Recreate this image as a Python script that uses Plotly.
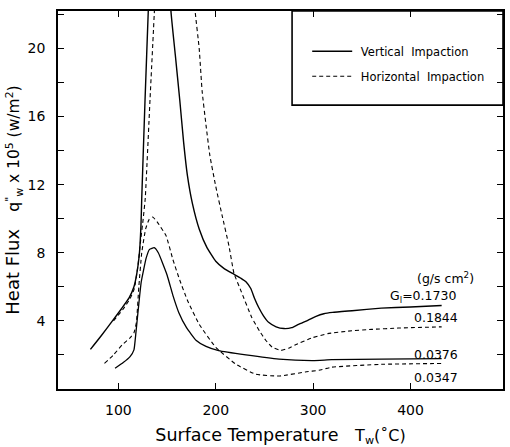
import plotly.graph_objects as go

# ---- data ----
# Vertical impaction, G = 0.1730 (goes off the top of the chart)
v1730_T = [71.3, 82, 93.9, 103, 111, 116, 119, 121.5, 123.2, 124, 127.4, 130.7, 133.5, 152,
           154, 158.5, 163, 167, 171, 176, 183, 191, 200, 208, 216.7, 226, 231, 236,
           240, 244, 249, 254.6, 262, 270, 278, 285, 295, 303, 311, 320, 340, 370, 400, 432]
v1730_q = [2.33, 3.1, 4.0, 4.7, 5.35, 6.0, 6.8, 7.9, 9.6, 11.2, 17.0, 22.2, 27, 27,
           22.2, 19.6, 17.0, 14.5, 12.5, 10.9, 9.4, 8.3, 7.5, 7.1, 6.8, 6.5, 6.3, 5.9,
           5.3, 4.8, 4.3, 3.9, 3.65, 3.55, 3.6, 3.8, 4.05, 4.27, 4.42, 4.5, 4.6, 4.75, 4.82, 4.9]

# Horizontal impaction, G = 0.1844 (goes off the top of the chart)
h1844_T = [95, 105, 112, 116.4, 120, 123, 125.5, 127.6, 132.5, 137, 140, 174,
           178.8, 183, 186, 190, 194, 200, 206.5, 213.6, 218.7, 226, 237, 245, 251.5,
           258, 267, 275, 282, 298.6, 315, 336, 360, 387.6, 432]
h1844_q = [4.0, 4.7, 5.3, 5.9, 7.2, 8.8, 10.0, 11.2, 17.0, 22.2, 26, 26,
           22.2, 20.0, 17.5, 15.5, 13.7, 11.9, 10.2, 8.4, 6.8, 5.75, 4.2, 3.4, 2.85,
           2.45, 2.27, 2.4, 2.6, 3.0, 3.25, 3.4, 3.5, 3.58, 3.65]

# Vertical impaction, G = 0.0376
v0376_T = [96.6, 105, 112, 116, 118, 121, 123.5, 128.6, 132, 136.8, 141, 150, 156, 162,
           170, 180, 190, 203, 231, 265, 300, 319, 370, 432]
v0376_q = [1.22, 1.55, 1.9, 2.3, 3.3, 5.0, 6.3, 7.7, 8.2, 8.3, 8.0, 6.7, 5.5, 4.5,
           3.6, 2.85, 2.5, 2.25, 2.0, 1.75, 1.67, 1.72, 1.75, 1.78]

# Horizontal impaction, G = 0.0347
h0347_T = [85.7, 95, 104, 112, 116, 118.5, 121, 124, 128, 131.5, 135.3, 140, 149, 156,
           163, 171, 183, 200, 220.8, 241, 265, 292, 306, 319, 370, 432]
h0347_q = [1.5, 2.0, 2.6, 3.0, 3.3, 3.9, 6.0, 8.0, 9.4, 9.95, 10.1, 9.8, 9.0, 7.6,
           6.4, 5.2, 3.8, 2.45, 1.45, 0.87, 0.76, 1.0, 1.1, 1.28, 1.45, 1.5]

x_ticks = [100, 200, 300, 400]
y_ticks = [4, 8, 12, 16, 20]
label_text = ["(g/s cm<sup>2</sup>)", "G<sub>l</sub>=0.1730", "0.1844", "0.0376", "0.0347"]
label_x = [436, 413, 426, 426, 426]
label_y = [6.5, 5.45, 4.2, 2.05, 0.65]

FONT = "DejaVu Sans"
fig = go.Figure()

def add(T, q, dash, width, name, show, group):
    fig.add_trace(go.Scatter(
        x=T, y=q, mode="lines", name=name, showlegend=show, legendgroup=group,
        line=dict(color="black", width=width, dash=dash, shape="spline", smoothing=0.4),
    ))

add(v1730_T, v1730_q, "solid", 1.4, "\u00a0Vertical  Impaction", True, "v")
add(v0376_T, v0376_q, "solid", 1.3, "\u00a0Vertical  Impaction", False, "v")
add(h1844_T, h1844_q, "4px,3px", 1.1, "\u00a0Horizontal  Impaction", True, "h")
add(h0347_T, h0347_q, "4px,3px", 1.1, "\u00a0Horizontal  Impaction", False, "h")

for t, x, y in zip(label_text, label_x, label_y):
    fig.add_annotation(x=x, y=y, text=t, showarrow=False,
                       font=dict(family=FONT, size=12.5, color="black"))

# legend box
fig.add_shape(type="rect", xref="paper", yref="paper", x0=0.526, x1=1.0, y0=0.751, y1=1.0,
              line=dict(color="black", width=1.6), layer="below")

axis_common = dict(
    showline=True, linecolor="black", linewidth=1.6, mirror="ticks",
    ticks="inside", ticklen=6, tickwidth=1.2, tickcolor="black",
    showgrid=False, zeroline=False,
    tickfont=dict(family=FONT, size=14, color="black"),
)

fig.update_layout(
    width=510, height=447,
    margin=dict(l=58, r=5, t=11, b=55),
    paper_bgcolor="white", plot_bgcolor="white",
    xaxis=dict(range=[38, 495], tickvals=x_ticks, ticklabelstandoff=7,
               title=dict(text="Surface Temperature \u00a0 <span style='font-size:16px'>T<sub>w</sub>(˚C)</span>",
                          font=dict(family=FONT, size=17.5, color="black"), standoff=12),
               **axis_common),
    yaxis=dict(range=[0, 22.2], tickvals=y_ticks, ticklabelstandoff=8,
               minor=dict(tickvals=[2, 6, 10, 14, 18, 22], ticks="inside", ticklen=6, tickcolor="black"),
               title=dict(text="Heat Flux   <span style='font-size:15.5px'>q<sup>\"</sup><sub>w</sub> x 10<sup>5</sup> (w/m<sup>2</sup>)</span>",
                          font=dict(family=FONT, size=18, color="black"), standoff=3),
               **axis_common),
    legend=dict(x=0.56, y=0.932, xanchor="left", yanchor="top",
                bgcolor="rgba(0,0,0,0)", borderwidth=0,
                font=dict(family=FONT, size=11.5, color="black"),
                tracegroupgap=6, itemwidth=40),
)

fig.write_html("out.html")
